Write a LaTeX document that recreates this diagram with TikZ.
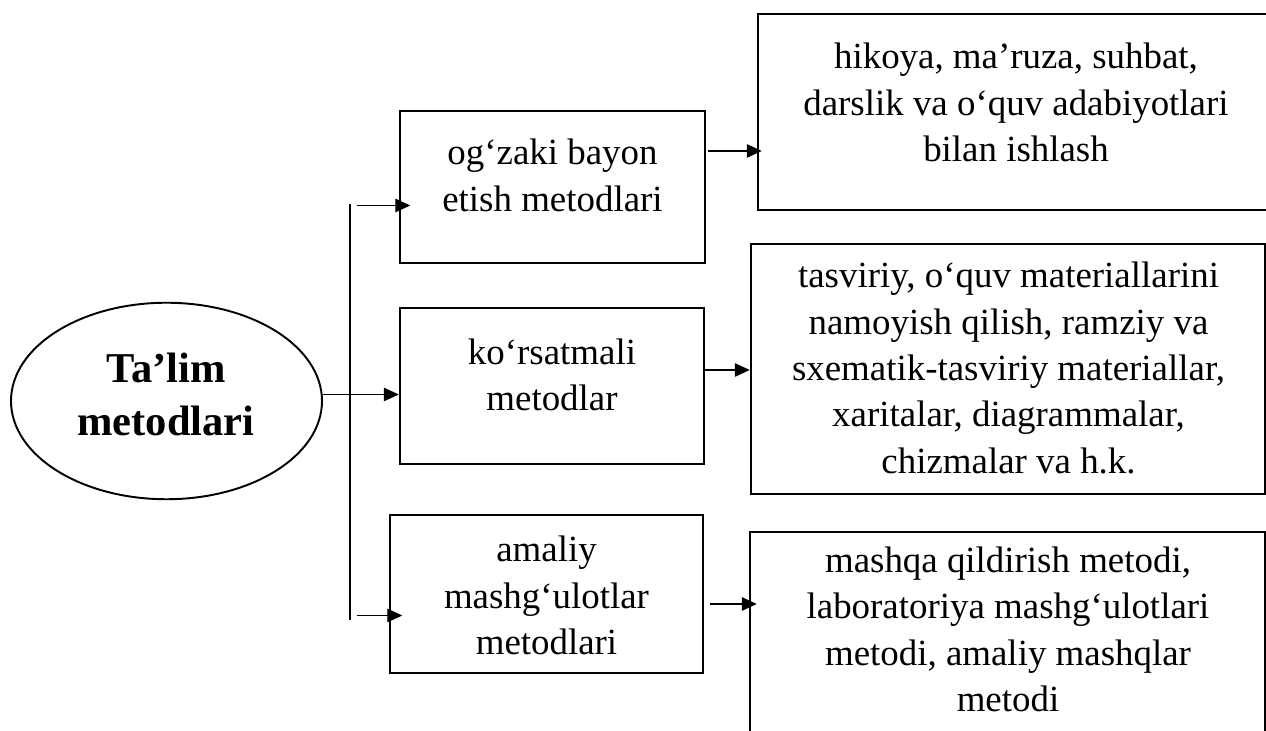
\documentclass[tikz,border=0pt]{standalone}
\usepackage{fontspec}
\setmainfont{Liberation Serif}
\usetikzlibrary{arrows.meta,shapes.geometric}
\tikzset{
	box/.style={draw, line width=1.4pt, inner sep=0pt},
	txt/.style={align=center, inner sep=0pt, font=\fontsize{21}{26.4}\selectfont},
	arr/.style={-{Triangle[length=3mm,width=2.7mm]}, line width=0.75pt}
}

\begin{document}
\begin{tikzpicture}
			%%%%% START %%%%%
			
			\useasboundingbox (0, 0) rectangle (25.32, 14.62);
			\clip (0, 0) rectangle (25.32, 14.62);
			
			\node[ellipse, draw, line width=1.1pt, minimum width=6.22cm, minimum height=3.93cm, inner sep=0pt] (elp) at (3.33, 6.6) {};
			\node[align=center, inner sep=0pt, font=\fontsize{24.2}{29.7}\selectfont\bfseries] (elptxt) at (3.32, 6.73) {Ta’lim\\metodlari};
			
			\node[box, minimum width=6.1cm, minimum height=3.04cm] (b1) at (11.05, 10.88) {};
			\node[txt] (b1txt) at (11.05, 11.11) {og‘zaki bayon\\etish metodlari};
			
			\node[box, minimum width=6.08cm, minimum height=3.12cm] (b2) at (11.04, 6.9) {};
			\node[txt] (b2txt) at (11.04, 7.12) {ko‘rsatmali\\metodlar};
			
			\node[box, minimum width=6.26cm, minimum height=3.16cm] (b3) at (10.93, 2.74) {};
			\node[txt] (b3txt) at (10.93, 2.71) {amaliy\\mashg‘ulotlar\\metodlari};
			
			\node[box, minimum width=10.32cm, minimum height=3.92cm] (r1) at (20.32, 12.38) {};
			\node[txt] (r1txt) at (20.32, 12.57) {hikoya, ma’ruza, suhbat,\\darslik va o‘quv adabiyotlari\\bilan ishlash};
			
			\node[box, minimum width=10.28cm, minimum height=5cm] (r2) at (20.16, 7.24) {};
			\node[txt] (r2txt) at (20.17, 7.26) {tasviriy, o‘quv materiallarini\\namoyish qilish, ramziy va\\sxematik-tasviriy materiallar,\\xaritalar, diagrammalar,\\chizmalar va h.k.};
			
			\node[box, minimum width=10.3cm, minimum height=4.16cm] (r3) at (20.15, 1.9) {};
			\node[txt] (r3txt) at (20.16, 2.03) {mashqa qildirish metodi,\\laboratoriya mashg‘ulotlari\\metodi, amaliy mashqlar\\metodi};
			
			\coordinate (vtop) at (7, 10.54);
			\coordinate (vbot) at (7, 2.22);
			\coordinate (s1) at (7.13, 10.51);
			\coordinate (s3) at (7.13, 2.31);
			
			\draw[line width=0.75pt] (vtop) -- (vbot);
			\draw[arr] (s1) -- ([xshift=2.3mm]b1.west |- s1);
			\draw[arr] ([yshift=1.3mm]elp.east) -- ([yshift=1.3mm]elp.east -| b2.west);
			\draw[arr] (s3) -- ([xshift=2.7mm]b3.west |- s3);
			
			\draw[arr] ([xshift=0.4mm, yshift=7.2mm]b1.east) -- ([xshift=1mm, yshift=7.2mm]b1.east -| r1.west);
			\draw[arr] ([yshift=3.2mm]b2.east) -- ([yshift=3.2mm]b2.east -| r2.west);
			\draw[arr] ([xshift=1.2mm, yshift=-2mm]b3.east) -- ([xshift=1.6mm, yshift=-2mm]b3.east -| r3.west);
			
			%%%%% END %%%%%
		\end{tikzpicture}
\end{document}
